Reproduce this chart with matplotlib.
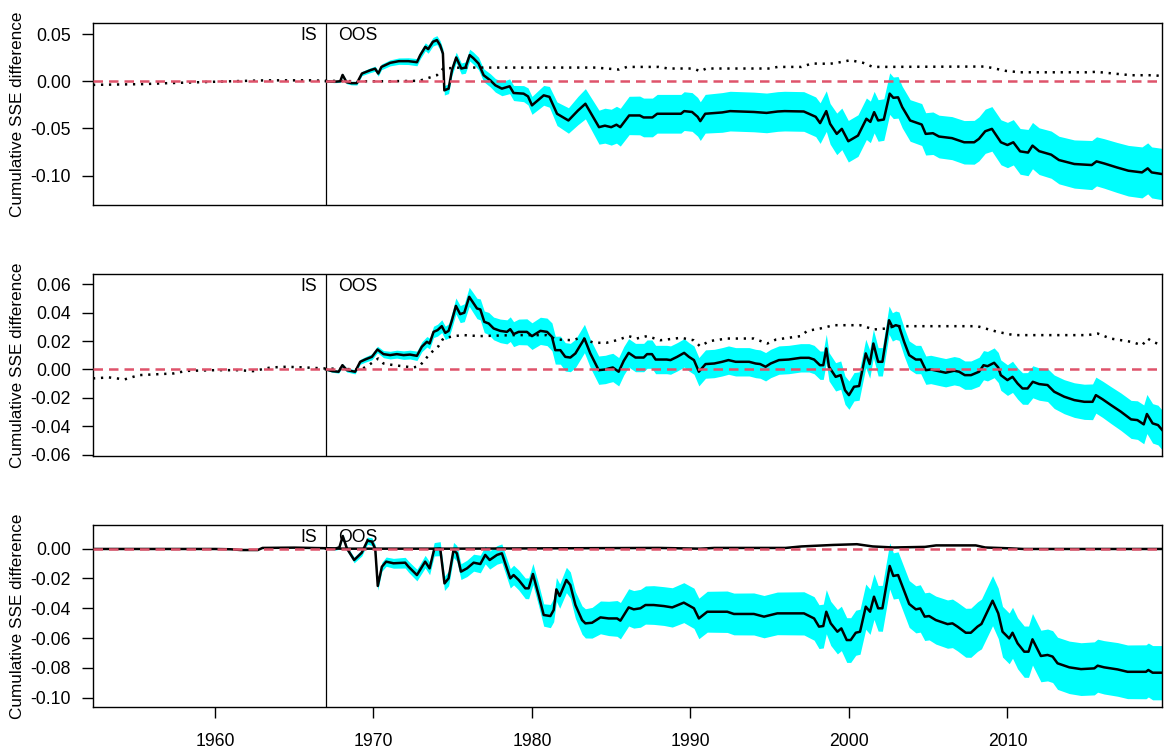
import numpy as np
import matplotlib
matplotlib.use("Agg")
import matplotlib.pyplot as plt
import matplotlib.transforms as mtransforms

plt.rcParams["font.family"] = ["Liberation Sans", "DejaVu Sans"]
plt.rcParams["axes.unicode_minus"] = False

SPLIT = 1967.0
XLIM = (1952.3, 2019.75)

# out-of-sample cumulative SSE difference: (year, value, band half-width)
p1_oos = [
    (1967.0, 0.0, 0.0005), (1967.5, -0.0005, 0.001), (1967.9, 0.0, 0.0012),
    (1968.05, 0.0067, 0.0015), (1968.3, -0.001, 0.0015), (1968.6, -0.002, 0.0018),
    (1968.95, -0.002, 0.002), (1969.27, 0.0082, 0.0022), (1969.8, 0.0117, 0.0025),
    (1970.1, 0.0133, 0.0027), (1970.3, 0.0082, 0.0028), (1970.5, 0.0152, 0.003),
    (1971.05, 0.0195, 0.0032), (1971.6, 0.0213, 0.0034), (1972.2, 0.0213, 0.0036),
    (1972.74, 0.0202, 0.0038), (1972.95, 0.0277, 0.004), (1973.27, 0.0365, 0.0042),
    (1973.45, 0.034, 0.0043), (1973.75, 0.0418, 0.0045), (1974.0, 0.0436, 0.0047),
    (1974.2, 0.0383, 0.0048), (1974.38, 0.0294, 0.005), (1974.47, -0.0096, 0.005),
    (1974.74, -0.0078, 0.0052), (1974.95, 0.0117, 0.0054), (1975.22, 0.0252, 0.0056),
    (1975.54, 0.0135, 0.0058), (1975.8, 0.0145, 0.006), (1976.07, 0.0277, 0.0062),
    (1976.3, 0.0245, 0.0064), (1976.63, 0.0188, 0.0066), (1976.95, 0.0064, 0.0068),
    (1977.37, 0.001, 0.007), (1977.69, -0.0043, 0.0072), (1978.1, -0.0078, 0.0075),
    (1978.59, -0.0053, 0.0078), (1978.84, -0.0124, 0.008), (1979.47, -0.0131, 0.0085),
    (1979.75, -0.016, 0.009), (1980.0, -0.0255, 0.0095), (1980.74, -0.0149, 0.0105),
    (1981.1, -0.0165, 0.011), (1981.58, -0.0344, 0.0125), (1982.3, -0.0415, 0.0135),
    (1982.9, -0.031, 0.015), (1983.37, -0.0238, 0.016), (1984.23, -0.0486, 0.018),
    (1984.6, -0.047, 0.0185), (1985.0, -0.0486, 0.019), (1985.33, -0.046, 0.0195),
    (1985.57, -0.0486, 0.02), (1986.13, -0.0362, 0.0203), (1986.8, -0.0362, 0.0205),
    (1987.04, -0.0383, 0.0205), (1987.6, -0.0383, 0.0205), (1987.9, -0.0344, 0.0205),
    (1989.4, -0.0344, 0.0205), (1989.6, -0.0316, 0.0205), (1990.1, -0.0325, 0.0205),
    (1990.45, -0.0376, 0.0205), (1990.62, -0.0422, 0.0205), (1990.93, -0.0344, 0.0205),
    (1992.0, -0.033, 0.021), (1992.5, -0.0316, 0.021), (1994.0, -0.0325, 0.021),
    (1994.8, -0.0335, 0.021), (1995.5, -0.032, 0.021), (1995.94, -0.0316, 0.021),
    (1997.15, -0.032, 0.021), (1997.9, -0.0376, 0.021), (1998.18, -0.0443, 0.0215),
    (1998.57, -0.0316, 0.0215), (1998.81, -0.045, 0.0215), (1999.23, -0.0557, 0.022),
    (1999.55, -0.0504, 0.022), (1999.96, -0.0635, 0.022), (2000.57, -0.0575, 0.022),
    (2001.1, -0.0397, 0.022), (2001.35, -0.043, 0.022), (2001.59, -0.0327, 0.022),
    (2001.84, -0.0415, 0.022), (2002.2, -0.0405, 0.022), (2002.57, -0.0131, 0.022),
    (2002.8, -0.0175, 0.022), (2003.1, -0.017, 0.022), (2003.36, -0.0273, 0.022),
    (2003.86, -0.0415, 0.022), (2004.59, -0.0458, 0.0222), (2004.84, -0.0557, 0.0224),
    (2005.3, -0.055, 0.0225), (2005.68, -0.0585, 0.0226), (2006.5, -0.0602, 0.0228),
    (2007.27, -0.0646, 0.023), (2007.9, -0.0646, 0.0232), (2008.2, -0.061, 0.0233),
    (2008.6, -0.0529, 0.0234), (2009.02, -0.0504, 0.0236), (2009.59, -0.0646, 0.0238),
    (2010.0, -0.0675, 0.024), (2010.37, -0.0646, 0.024), (2010.8, -0.0742, 0.0242),
    (2011.3, -0.0755, 0.0245), (2011.58, -0.0681, 0.0245), (2012.0, -0.074, 0.0247),
    (2012.76, -0.0777, 0.025), (2013.25, -0.0834, 0.0252), (2014.22, -0.0876, 0.0255),
    (2015.32, -0.0887, 0.026), (2015.62, -0.0848, 0.026), (2016.1, -0.087, 0.0262),
    (2016.9, -0.0912, 0.0265), (2017.63, -0.0947, 0.0268), (2018.49, -0.0965, 0.027),
    (2018.85, -0.0922, 0.027), (2019.1, -0.0965, 0.027), (2019.75, -0.0982, 0.0272),
]
p1_is = [
    (1952.3, -0.0038), (1953.5, -0.0035), (1955.5, -0.003), (1957.0, -0.002),
    (1959.0, -0.001), (1961.0, 0.0), (1963.2, 0.001), (1966.0, 0.001),
    (1967.0, 0.0005), (1969.0, 0.0), (1971.0, 0.0), (1972.9, 0.0005),
    (1974.0, 0.0064), (1974.4, 0.0135), (1975.5, 0.0145), (1984.0, 0.0145),
    (1985.5, 0.0124), (1986.0, 0.0152), (1988.0, 0.0152), (1988.6, 0.0135),
    (1990.2, 0.0135), (1990.6, 0.0106), (1991.0, 0.0135), (1995.0, 0.0135),
    (1995.5, 0.0152), (1997.0, 0.0152), (1997.65, 0.0188), (1998.8, 0.0185),
    (1999.6, 0.0206), (2000.08, 0.0223), (2000.9, 0.0195), (2001.5, 0.0152),
    (2008.6, 0.0156), (2009.2, 0.0135), (2009.9, 0.011), (2010.8, 0.0095),
    (2015.0, 0.0095), (2015.6, 0.01), (2016.5, 0.0085), (2017.8, 0.0064),
    (2019.3, 0.0064), (2019.75, 0.0053),
]

p2_oos = [
    (1967.0, 0.0, 0.0005), (1967.4, -0.0012, 0.0008), (1967.8, -0.0016, 0.001),
    (1968.04, 0.003, 0.0012), (1968.32, -0.0005, 0.0013), (1968.84, -0.0016, 0.0015),
    (1969.16, 0.0054, 0.0017), (1969.47, 0.007, 0.0019), (1969.9, 0.0089, 0.0021),
    (1970.25, 0.0141, 0.0023), (1970.63, 0.0108, 0.0025), (1971.05, 0.0101, 0.0027),
    (1971.47, 0.0108, 0.0028), (1971.9, 0.0101, 0.003), (1972.3, 0.0105, 0.0031),
    (1972.74, 0.0096, 0.0033), (1973.05, 0.016, 0.0035), (1973.37, 0.0195, 0.0037),
    (1973.54, 0.0183, 0.0038), (1973.79, 0.0265, 0.004), (1974.04, 0.0277, 0.0042),
    (1974.31, 0.0305, 0.0045), (1974.53, 0.0258, 0.0047), (1974.74, 0.0272, 0.005),
    (1974.95, 0.0347, 0.0053), (1975.2, 0.0448, 0.0056), (1975.47, 0.039, 0.006),
    (1975.73, 0.04, 0.0063), (1976.04, 0.0512, 0.0067), (1976.25, 0.0477, 0.007),
    (1976.53, 0.043, 0.0072), (1976.74, 0.0423, 0.0074), (1976.99, 0.0336, 0.0076),
    (1977.27, 0.0324, 0.0078), (1977.58, 0.0289, 0.008), (1978.0, 0.0272, 0.0083),
    (1978.42, 0.0265, 0.0085), (1978.63, 0.0284, 0.0087), (1978.84, 0.0249, 0.0088),
    (1979.16, 0.0265, 0.009), (1979.68, 0.0265, 0.0092), (1980.0, 0.0235, 0.0094),
    (1980.53, 0.0272, 0.0096), (1980.95, 0.0265, 0.0097), (1981.26, 0.023, 0.0098),
    (1981.47, 0.0136, 0.0098), (1981.79, 0.0136, 0.0099), (1982.1, 0.0089, 0.01),
    (1982.42, 0.0084, 0.01), (1982.74, 0.0113, 0.01), (1983.31, 0.0218, 0.01),
    (1983.68, 0.0113, 0.01), (1984.21, -0.0005, 0.01), (1984.63, 0.0, 0.01),
    (1984.84, 0.0007, 0.01), (1985.1, 0.0014, 0.01), (1985.47, -0.0016, 0.01),
    (1985.79, 0.0061, 0.01), (1986.1, 0.0117, 0.01), (1986.53, 0.0084, 0.01),
    (1987.05, 0.0084, 0.01), (1987.26, 0.0108, 0.01), (1987.57, 0.0108, 0.01),
    (1987.8, 0.007, 0.01), (1988.5, 0.007, 0.01), (1988.74, 0.0066, 0.01),
    (1989.16, 0.0089, 0.01), (1989.6, 0.0117, 0.01), (1989.9, 0.0089, 0.01),
    (1990.22, 0.0066, 0.01), (1990.53, -0.0016, 0.01), (1990.95, 0.0038, 0.01),
    (1991.5, 0.0042, 0.01), (1992.0, 0.0054, 0.01), (1992.4, 0.0066, 0.01),
    (1992.85, 0.0054, 0.01), (1993.7, 0.0054, 0.01), (1994.11, 0.0042, 0.01),
    (1994.4, 0.0038, 0.01), (1994.74, 0.0019, 0.01), (1995.06, 0.0042, 0.01),
    (1995.58, 0.0066, 0.01), (1996.2, 0.007, 0.01), (1996.95, 0.0082, 0.01),
    (1997.48, 0.0082, 0.01), (1997.8, 0.007, 0.01), (1998.17, 0.003, 0.01),
    (1998.38, 0.003, 0.01), (1998.57, 0.0148, 0.01), (1998.74, 0.0019, 0.01),
    (1999.16, -0.0052, 0.01), (1999.48, -0.004, 0.01), (1999.75, -0.0146, 0.01),
    (2000.0, -0.0181, 0.01), (2000.32, -0.0122, 0.01), (2000.64, -0.0117, 0.01),
    (2001.06, 0.0113, 0.01), (2001.31, 0.0038, 0.01), (2001.54, 0.0183, 0.01),
    (2001.84, 0.0054, 0.01), (2002.11, 0.0054, 0.01), (2002.53, 0.0347, 0.01),
    (2002.74, 0.03, 0.01), (2002.95, 0.0312, 0.01), (2003.16, 0.0305, 0.01),
    (2003.48, 0.0195, 0.01), (2003.8, 0.0101, 0.01), (2004.22, 0.007, 0.01),
    (2004.53, 0.007, 0.01), (2004.85, -0.0005, 0.01), (2005.16, 0.0, 0.01),
    (2005.8, -0.0016, 0.01), (2006.1, -0.0023, 0.01), (2006.64, -0.0009, 0.01),
    (2006.95, -0.0016, 0.01), (2007.31, -0.004, 0.01), (2007.7, -0.004, 0.01),
    (2008.21, -0.0016, 0.0102), (2008.49, 0.003, 0.0103), (2008.74, 0.0023, 0.0104),
    (2009.16, 0.0047, 0.0105), (2009.42, 0.0014, 0.0106), (2009.58, -0.004, 0.0107),
    (2010.0, -0.0075, 0.0108), (2010.32, -0.0052, 0.011), (2010.64, -0.0099, 0.011),
    (2010.95, -0.0134, 0.0111), (2011.27, -0.0134, 0.0112), (2011.6, -0.0087, 0.0113),
    (2012.0, -0.0103, 0.0114), (2012.53, -0.011, 0.0116), (2012.95, -0.0157, 0.0118),
    (2013.58, -0.0192, 0.012), (2014.22, -0.0216, 0.0122), (2014.85, -0.0228, 0.0124),
    (2015.37, -0.0228, 0.0126), (2015.58, -0.0181, 0.0127), (2016.0, -0.021, 0.0128),
    (2016.53, -0.0251, 0.013), (2017.16, -0.0298, 0.0132), (2017.8, -0.0352, 0.0134),
    (2018.2, -0.0357, 0.0136), (2018.6, -0.0387, 0.0137), (2018.8, -0.0314, 0.0138),
    (2019.16, -0.038, 0.0139), (2019.5, -0.0392, 0.014), (2019.75, -0.0425, 0.014),
]
p2_is = [
    (1952.3, -0.0063), (1953.3, -0.0056), (1954.3, -0.007), (1955.2, -0.004),
    (1956.5, -0.0033), (1957.4, -0.0028), (1958.2, -0.001), (1960.0, -0.0005),
    (1961.5, -0.0005), (1962.4, -0.0012), (1963.5, 0.0014), (1964.5, 0.0019),
    (1965.7, 0.0014), (1966.95, 0.0007), (1969.2, 0.0), (1969.6, 0.0023),
    (1970.3, 0.0077), (1970.63, 0.0042), (1971.3, 0.003), (1972.5, 0.0014),
    (1972.9, 0.0023), (1973.58, 0.0113), (1974.1, 0.0164), (1974.4, 0.0218),
    (1975.05, 0.0235), (1975.7, 0.0242), (1976.7, 0.0235), (1978.8, 0.0242),
    (1980.9, 0.0242), (1981.58, 0.0211), (1982.6, 0.0206), (1983.05, 0.0225),
    (1983.9, 0.0188), (1984.7, 0.0188), (1985.35, 0.0206), (1986.1, 0.0235),
    (1986.6, 0.0218), (1987.26, 0.0235), (1988.1, 0.0206), (1989.4, 0.0223),
    (1990.2, 0.0206), (1990.6, 0.0164), (1991.2, 0.02), (1992.3, 0.0218),
    (1994.0, 0.0218), (1994.85, 0.0183), (1995.4, 0.0211), (1996.95, 0.0235),
    (1997.37, 0.0272), (1998.2, 0.0289), (1999.05, 0.0312), (2000.7, 0.0312),
    (2001.58, 0.0282), (2002.4, 0.0289), (2002.85, 0.0305), (2008.1, 0.0305),
    (2008.6, 0.0289), (2009.37, 0.0265), (2010.4, 0.0242), (2015.05, 0.0242),
    (2015.7, 0.0253), (2016.5, 0.0218), (2017.8, 0.0195), (2018.5, 0.0171),
    (2018.85, 0.0218), (2019.16, 0.0195), (2019.75, 0.0171),
]

p3_oos = [
    (1967.0, 0.0, 0.0005), (1967.58, 0.0, 0.001), (1967.85, 0.0009, 0.0012),
    (1968.06, 0.0085, 0.0014), (1968.32, 0.0002, 0.0016), (1968.78, -0.0076, 0.0019),
    (1969.26, -0.0027, 0.0022), (1969.62, 0.0054, 0.0024), (1969.9, 0.0047, 0.0026),
    (1970.11, 0.0, 0.0027), (1970.27, -0.025, 0.0028), (1970.53, -0.0121, 0.003),
    (1970.8, -0.0087, 0.0031), (1971.26, -0.0098, 0.0033), (1972.0, -0.0094, 0.0036),
    (1972.21, -0.0121, 0.0037), (1972.74, -0.0177, 0.0039), (1973.26, -0.0087, 0.0042),
    (1973.54, -0.0132, 0.0043), (1973.83, -0.0004, 0.0045), (1974.21, 0.0, 0.0047),
    (1974.48, -0.0233, 0.0048), (1974.74, -0.0199, 0.005), (1975.05, -0.0009, 0.0051),
    (1975.26, -0.0031, 0.0052), (1975.52, -0.0154, 0.0053), (1975.9, -0.0132, 0.0055),
    (1976.32, -0.0094, 0.0057), (1976.74, -0.0103, 0.0059), (1977.05, -0.0042, 0.006),
    (1977.33, -0.0076, 0.0061), (1977.79, -0.0042, 0.0062), (1978.1, -0.0031, 0.0063),
    (1978.63, -0.0199, 0.0065), (1978.84, -0.0177, 0.0066), (1979.16, -0.021, 0.0067),
    (1979.58, -0.0266, 0.0069), (1979.79, -0.0266, 0.007), (1980.06, -0.017, 0.0071),
    (1980.42, -0.0311, 0.0073), (1980.74, -0.0445, 0.0075), (1981.16, -0.0452, 0.0078),
    (1981.37, -0.0411, 0.0079), (1981.54, -0.0273, 0.008), (1981.75, -0.0318, 0.0082),
    (1982.17, -0.021, 0.0085), (1982.42, -0.0244, 0.0088), (1982.74, -0.0378, 0.009),
    (1983.16, -0.0479, 0.0095), (1983.37, -0.0501, 0.0098), (1983.79, -0.0497, 0.0103),
    (1984.32, -0.0461, 0.011), (1984.84, -0.0468, 0.0115), (1985.37, -0.0468, 0.012),
    (1985.58, -0.0483, 0.0122), (1986.1, -0.0394, 0.0125), (1986.42, -0.0407, 0.0126),
    (1986.84, -0.04, 0.0127), (1987.16, -0.0378, 0.0128), (1987.68, -0.0378, 0.013),
    (1988.32, -0.0385, 0.013), (1988.85, -0.0394, 0.0132), (1989.58, -0.0362, 0.0134),
    (1990.22, -0.04, 0.0135), (1990.53, -0.0468, 0.0136), (1991.06, -0.0423, 0.0137),
    (1992.32, -0.0423, 0.0139), (1992.74, -0.0438, 0.014), (1994.0, -0.0438, 0.0141),
    (1994.64, -0.0456, 0.0142), (1995.48, -0.0434, 0.0143), (1997.16, -0.0434, 0.0145),
    (1997.8, -0.0468, 0.0146), (1998.11, -0.0523, 0.0147), (1998.38, -0.0519, 0.0147),
    (1998.57, -0.0423, 0.0148), (1998.85, -0.0501, 0.0148), (1999.27, -0.0557, 0.0149),
    (1999.52, -0.0535, 0.0149), (1999.86, -0.0613, 0.015), (2000.11, -0.0613, 0.015),
    (2000.43, -0.0564, 0.0151), (2000.7, -0.0557, 0.0151), (2001.06, -0.0389, 0.0152),
    (2001.33, -0.0423, 0.0152), (2001.58, -0.0322, 0.0153), (2001.84, -0.04, 0.0153),
    (2002.11, -0.04, 0.0154), (2002.57, -0.0116, 0.0155), (2002.8, -0.0183, 0.0155),
    (2003.1, -0.0177, 0.0156), (2003.8, -0.0371, 0.0157), (2004.22, -0.0407, 0.0158),
    (2004.5, -0.0401, 0.0159), (2004.78, -0.0456, 0.016), (2005.06, -0.0452, 0.016),
    (2005.48, -0.0479, 0.0161), (2006.22, -0.0506, 0.0162), (2006.53, -0.0501, 0.0163),
    (2006.85, -0.0523, 0.0163), (2007.37, -0.0564, 0.0164), (2007.69, -0.0564, 0.0165),
    (2008.11, -0.0523, 0.0166), (2008.36, -0.0505, 0.0167), (2009.06, -0.0349, 0.0168),
    (2009.42, -0.0434, 0.0169), (2009.69, -0.0557, 0.017), (2010.11, -0.0602, 0.017),
    (2010.32, -0.0564, 0.0171), (2010.64, -0.0635, 0.0171), (2011.06, -0.0691, 0.0172),
    (2011.33, -0.0691, 0.0172), (2011.58, -0.0608, 0.0173), (2012.11, -0.072, 0.0173),
    (2012.53, -0.0713, 0.0174), (2012.85, -0.0724, 0.0174), (2013.16, -0.0769, 0.0175),
    (2013.9, -0.0796, 0.0176), (2014.64, -0.0808, 0.0177), (2015.48, -0.0803, 0.0178),
    (2015.69, -0.0785, 0.0178), (2016.1, -0.0796, 0.0179), (2016.95, -0.081, 0.018),
    (2017.58, -0.0826, 0.018), (2018.74, -0.0826, 0.0181), (2018.89, -0.0814, 0.0181),
    (2019.16, -0.0832, 0.0182), (2019.75, -0.0832, 0.0182),
]
p3_is = [
    (1952.3, -0.0002), (1956.0, -0.0002), (1960.0, -0.0002), (1961.0, -0.0004),
    (1961.6, -0.0009), (1962.7, -0.0009), (1963.0, 0.0005), (1965.0, 0.0007),
    (1967.0, 0.0003), (1968.0, 0.0), (1975.0, 0.0), (1980.0, 0.0002),
    (1988.0, 0.0005), (1990.6, 0.0), (1991.5, 0.0005), (1996.0, 0.0005),
    (1997.0, 0.0015), (1999.0, 0.0025), (2000.5, 0.003), (2001.5, 0.0015),
    (2002.8, 0.0008), (2004.8, 0.0012), (2005.5, 0.0022), (2008.0, 0.0022),
    (2008.6, 0.0008), (2010.2, 0.0002), (2011.0, -0.0002), (2019.75, -0.0002),
]

panels = [
    dict(oos=p1_oos, ins=p1_is, is_style=(0, (0.9, 2.3)), ylim=(-0.131, 0.0617),
         yticks=[-0.10, -0.05, 0.00, 0.05], bottom=0.7263),
    dict(oos=p2_oos, ins=p2_is, is_style=(0, (0.9, 2.3)), ylim=(-0.061, 0.0673),
         yticks=[-0.06, -0.04, -0.02, 0.00, 0.02, 0.04, 0.06], bottom=0.3912),
    dict(oos=p3_oos, ins=p3_is, is_style="-", ylim=(-0.1062, 0.0159),
         yticks=[-0.10, -0.08, -0.06, -0.04, -0.02, 0.00], bottom=0.0561),
]
xticks = [1960, 1970, 1980, 1990, 2000, 2010]

fig = plt.figure(figsize=(11.65, 7.49), dpi=100)
FS = 12.7

for i, p in enumerate(panels):
    ax = fig.add_axes([0.0798, p["bottom"], 0.9176, 0.2430])
    yr, cum, half = np.array(p["oos"]).T
    is_yr, is_val = np.array(p["ins"]).T

    ax.fill_between(yr, cum - half, cum + half, color="#00FFFF", lw=0, zorder=1)
    ax.plot(yr, cum, color="black", lw=1.8, zorder=3)
    ax.plot(is_yr, is_val, color="black", lw=1.8, linestyle=p["is_style"],
            dash_capstyle="butt", zorder=3)
    ax.axvline(SPLIT, color="black", lw=0.9, zorder=2)
    ax.axhline(0, color="#DF536B", lw=1.8, linestyle=(0, (3.8, 2.4)), zorder=4)

    trans = mtransforms.blended_transform_factory(ax.transData, ax.transAxes)
    ax.text(1966.43, 0.9066, "IS", ha="right", va="baseline", fontsize=FS,
            transform=trans, zorder=2)
    ax.text(1967.8, 0.9066, "OOS", ha="left", va="baseline", fontsize=FS,
            transform=trans, zorder=2)

    ax.set_xlim(*XLIM)
    ax.set_ylim(*p["ylim"])
    ax.set_yticks(p["yticks"])
    ax.set_yticklabels(["%.2f" % v for v in p["yticks"]])
    ax.tick_params(axis="y", direction="out", length=8, width=1, pad=8,
                   labelsize=FS)
    if i < 2:
        ax.set_xticks([])
    else:
        ax.set_xticks(xticks)
        ax.set_xticklabels([str(t) for t in xticks])
        ax.tick_params(axis="x", direction="out", length=8, width=1, pad=11,
                       labelsize=FS)
    for s in ax.spines.values():
        s.set_linewidth(1.0)
    ax.text(-0.0702, 0.5, "Cumulative SSE difference", transform=ax.transAxes,
            rotation=90, ha="center", va="center", fontsize=12.3)

fig.savefig("out.png", dpi=100)
